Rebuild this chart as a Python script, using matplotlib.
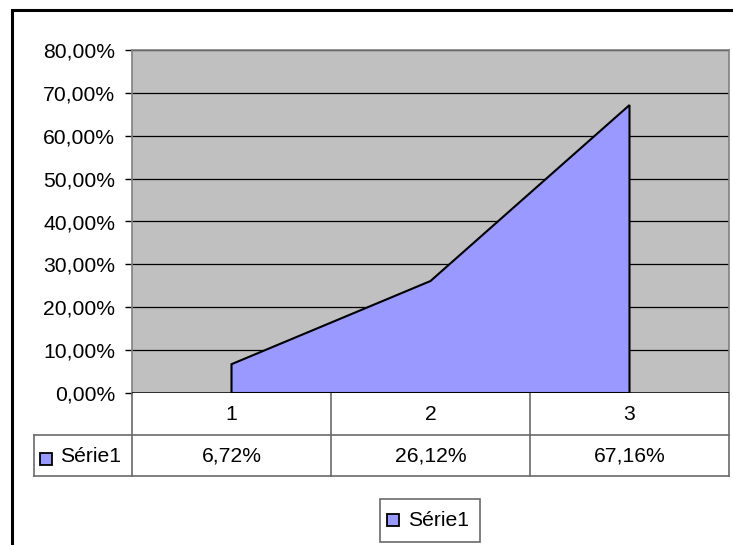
import matplotlib
matplotlib.use("Agg")
import matplotlib.pyplot as plt
from matplotlib.transforms import blended_transform_factory
from matplotlib.patches import Rectangle

categories = ["1", "2", "3"]
values = [6.72, 26.12, 67.16]          # percent
series_name = "Série1"
yticks = [0, 10, 20, 30, 40, 50, 60, 70, 80]

plt.rcParams['font.family'] = ['Liberation Sans', 'DejaVu Sans']
FS = 15.2
W, H = 733, 545
fig = plt.figure(figsize=(W / 100, H / 100), dpi=100)

# overlay axes in pixel coordinates (for frame, table, legend)
ov = fig.add_axes([0, 0, 1, 1])
ov.set_xlim(0, W)
ov.set_ylim(H, 0)
ov.axis("off")

L, R, T, B = 132, 729, 50, 393
ax = fig.add_axes([L / W, (H - B) / H, (R - L) / W, (B - T) / H])
ax.set_facecolor("#C0C0C0")
x = list(range(len(categories)))
ax.set_xlim(-0.5, len(categories) - 0.5)
ax.set_ylim(0, 80)
for yv in yticks[1:]:
    ax.axhline(yv, color="black", lw=0.9, zorder=1)
ax.fill(list(x) + [x[-1], x[0]], values + [0, 0], facecolor="#9999FF",
        edgecolor="black", lw=1.5, zorder=2, joinstyle="miter")
ax.axhline(0, color="black", lw=1.8, zorder=3)
ax.set_yticks(yticks)
ax.set_yticklabels([f"{v:.2f}%".replace(".", ",") for v in yticks], fontsize=FS)
ax.tick_params(axis="y", direction="out", length=5, width=1, pad=7, colors="black")
ax.set_xticks([])
for s in ["top", "right", "left"]:
    ax.spines[s].set_color("#808080")
    ax.spines[s].set_linewidth(1.2)
ax.spines["bottom"].set_visible(False)

# outer frame
ov.plot([12, 12, W], [H, 10, 10], color="black", lw=2.2, solid_joinstyle="miter")

# data table
tc = "#6A6A6A"
r1, r2, r3 = B, 435, 476
tleft = 34
ov.plot([tleft, R], [r2, r2], color=tc, lw=1.2)
ov.plot([tleft, R], [r3, r3], color=tc, lw=1.2)
ov.plot([tleft, tleft], [r2, r3], color=tc, lw=1.2)
bt = blended_transform_factory(ax.transData, ov.transData)
for i in range(len(categories) + 1):
    ov.plot([i - 0.5, i - 0.5], [r1, r3], color=tc, lw=1.2, transform=bt)
for i, (c, v) in enumerate(zip(categories, values)):
    ov.text(i, (r1 + r2) / 2 + 1, c, transform=bt, ha="center", va="center", fontsize=FS)
    ov.text(i, (r2 + r3) / 2 + 1, f"{v:.2f}%".replace(".", ","), transform=bt,
            ha="center", va="center", fontsize=FS)
ov.add_patch(Rectangle((40, 453), 12, 12, facecolor="#9999FF", edgecolor="black", lw=1.3))
ov.text(60, (r2 + r3) / 2 + 1, series_name, ha="left", va="center", fontsize=FS)

# legend
ov.add_patch(Rectangle((380, 499), 100, 43, facecolor="white", edgecolor=tc, lw=1.2))
ov.add_patch(Rectangle((387, 514), 12, 12, facecolor="#9999FF", edgecolor="black", lw=1.3))
ov.text(408, 521, series_name, ha="left", va="center", fontsize=FS)

fig.savefig("out.png", dpi=100)
